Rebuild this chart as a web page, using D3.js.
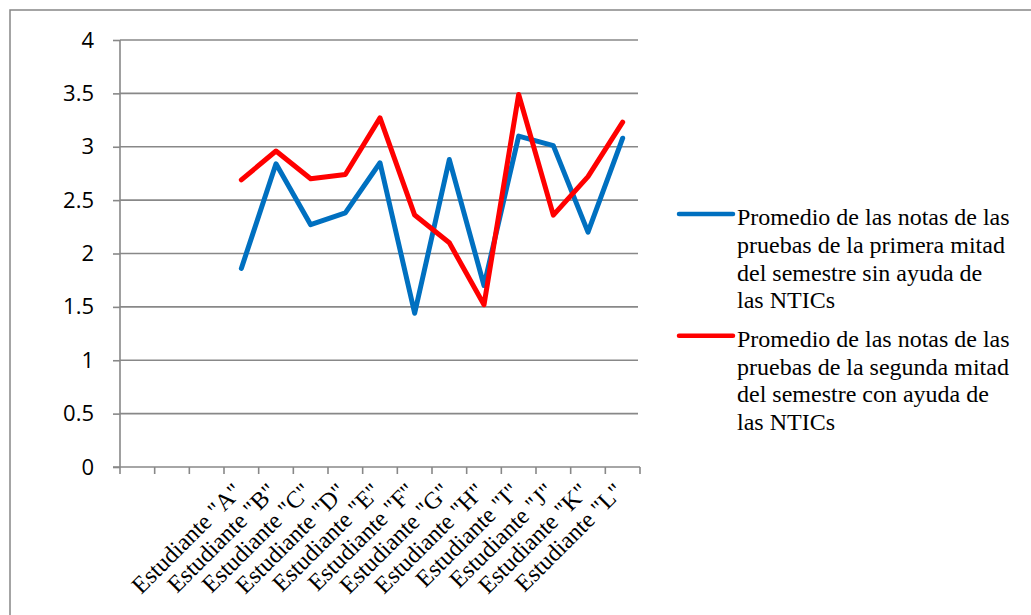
<!DOCTYPE html>
<html>
<head>
<meta charset="utf-8">
<script src="https://cdn.jsdelivr.net/npm/d3@7"></script>
<style>
  body { margin: 0; background: #fff; }
</style>
</head>
<body>
<svg width="1031" height="615"></svg>
<script>
// Categories: three empty slots come first in the original chart
var categories = ["", "", "", "Estudiante \"A\"", "Estudiante \"B\"", "Estudiante \"C\"", "Estudiante \"D\"",
    "Estudiante \"E\"", "Estudiante \"F\"", "Estudiante \"G\"", "Estudiante \"H\"", "Estudiante \"I\"",
    "Estudiante \"J\"", "Estudiante \"K\"", "Estudiante \"L\""];

// series values (A..L)
var primera = [1.86, 2.84, 2.27, 2.38, 2.85, 1.44, 2.88, 1.70, 3.10, 3.01, 2.20, 3.08];
var segunda = [2.69, 2.96, 2.70, 2.74, 3.27, 2.36, 2.10, 1.52, 3.49, 2.36, 2.72, 3.23];

var yTicks = [0, 0.5, 1, 1.5, 2, 2.5, 3, 3.5, 4];

var legendText = [
    ["Promedio de las notas de las", "pruebas de la primera mitad", "del semestre sin ayuda de", "las NTICs"],
    ["Promedio de las notas de las", "pruebas de la segunda mitad", "del semestre con ayuda de", "las NTICs"]
];
var colors = ["#0070c0", "#ff0000"];

var svg = d3.select("svg");

// outer frame
svg.append("rect")
    .attr("x", 10).attr("y", 10)
    .attr("width", 1040).attr("height", 640)
    .attr("fill", "none").attr("stroke", "#868686").attr("stroke-width", 1.5);

var x = d3.scaleBand().domain(d3.range(categories.length)).range([120, 640]).padding(0);
var y = d3.scaleLinear().domain([0, 4]).range([467, 40]);

// grid lines
svg.append("g")
    .selectAll("line")
    .data(yTicks.filter(function(d) { return d > 0; }))
    .enter().append("line")
    .attr("x1", 120).attr("x2", 638)
    .attr("y1", function(d) { return y(d); })
    .attr("y2", function(d) { return y(d); })
    .attr("stroke", "#888").attr("stroke-width", 1.6);

// y axis
var yAxis = svg.append("g")
    .attr("transform", "translate(120,0)")
    .call(d3.axisLeft(y).tickValues(yTicks).tickSize(7).tickPadding(19)
        .tickFormat(function(d) { return d; }));
yAxis.selectAll("line, path").attr("stroke", "#888").attr("stroke-width", 1.6);
yAxis.select(".domain").attr("d", "M0,467V40");
yAxis.selectAll("text")
    .attr("font-family", "'Open Sans', sans-serif")
    .attr("font-size", 22).attr("fill", "#000");

// x axis
var xAxis = svg.append("g")
    .attr("transform", "translate(0,467)");
xAxis.append("line")
    .attr("x1", 113).attr("x2", 640)
    .attr("stroke", "#888").attr("stroke-width", 1.6);
xAxis.selectAll(".tk")
    .data(d3.range(categories.length + 1))
    .enter().append("line")
    .attr("class", "tk")
    .attr("x1", function(d) { return 120 + d * x.bandwidth(); })
    .attr("x2", function(d) { return 120 + d * x.bandwidth(); })
    .attr("y1", 0).attr("y2", 7)
    .attr("stroke", "#888").attr("stroke-width", 1.6);
xAxis.selectAll(".lbl")
    .data(categories)
    .enter().append("text")
    .attr("class", "lbl")
    .attr("transform", function(d, i) {
        return "translate(" + (x(i) + x.bandwidth() / 2 + 2) + ",26) rotate(-45)";
    })
    .attr("text-anchor", "end")
    .attr("font-family", "'Liberation Serif', 'Times New Roman', serif")
    .attr("font-size", 24)
    .text(function(d) { return d; });

// lines
var line = d3.line()
    .x(function(d, i) { return x(i + 3) + x.bandwidth() / 2; })
    .y(function(d) { return y(d); });

[primera, segunda].forEach(function(s, k) {
    svg.append("path")
        .datum(s)
        .attr("d", line)
        .attr("fill", "none")
        .attr("stroke", colors[k])
        .attr("stroke-width", 5)
        .attr("stroke-linejoin", "round")
        .attr("stroke-linecap", "round");
});

// legend
var legend = svg.append("g");
legendText.forEach(function(lines, k) {
    var top = 214 + k * 121.7;
    legend.append("line")
        .attr("x1", 679).attr("x2", 733)
        .attr("y1", top).attr("y2", top)
        .attr("stroke", colors[k]).attr("stroke-width", 4.5)
        .attr("stroke-linecap", "round");
    var t = legend.append("text")
        .attr("x", 737).attr("y", top + 11)
        .attr("font-family", "'Liberation Serif', 'Times New Roman', serif")
        .attr("font-size", 24);
    lines.forEach(function(l, j) {
        t.append("tspan").attr("x", 737).attr("dy", j === 0 ? 0 : 27.8).text(l);
    });
});
</script>
</body>
</html>
